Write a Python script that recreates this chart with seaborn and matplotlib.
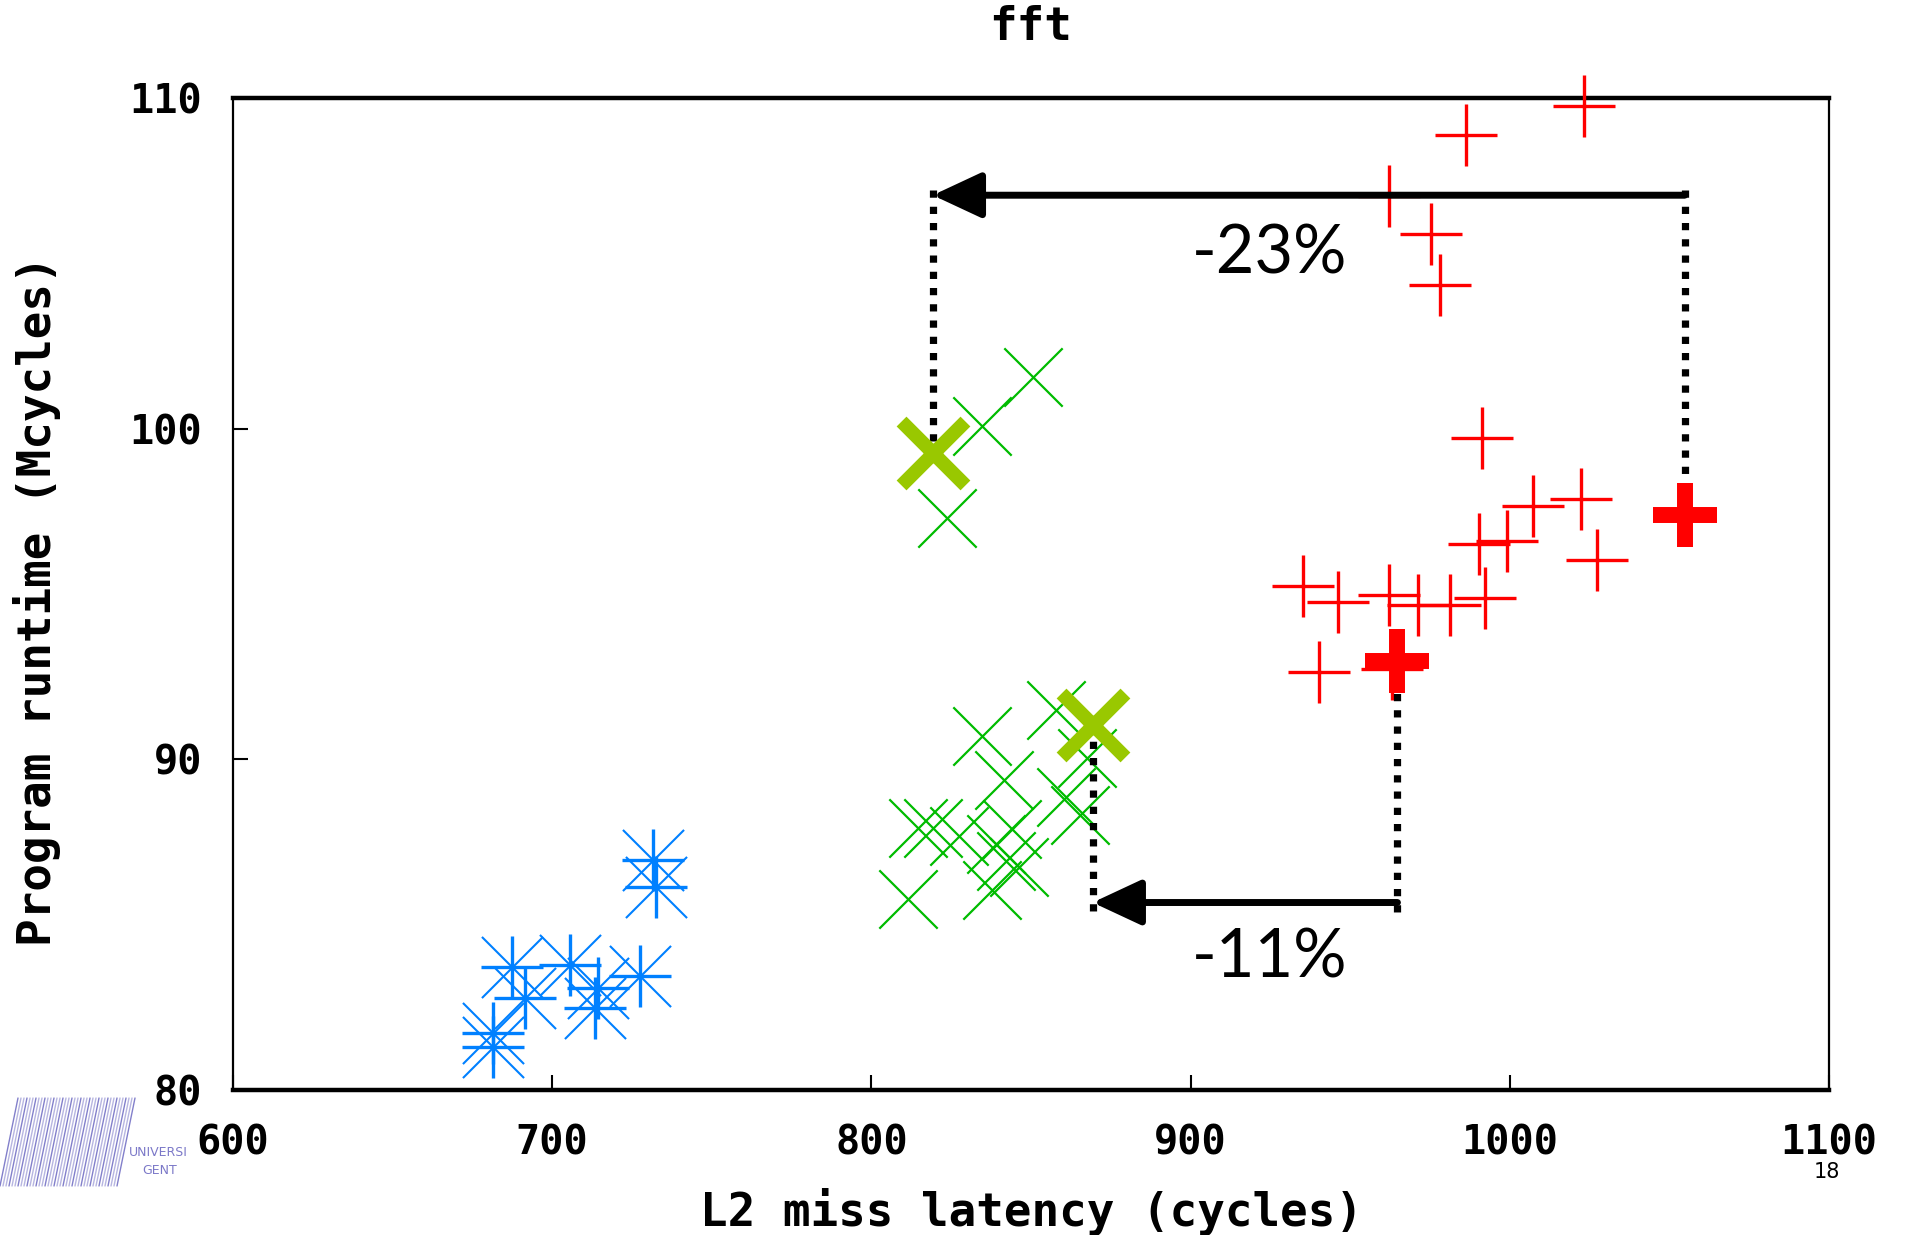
import matplotlib
matplotlib.use("Agg")
import matplotlib.pyplot as plt
import seaborn as sns
import pandas as pd
from matplotlib.lines import Line2D
from matplotlib.patches import FancyArrowPatch

# ---------------- data ----------------
blue_x = [731.5, 732.5, 687.3, 705.6, 691.5, 727.5, 714.4, 713.4, 681.4, 681.4]
blue_y = [86.95, 86.15, 83.73, 83.78, 82.78, 83.46, 83.08, 82.49, 81.72, 81.31]

green_x = [834.7, 850.7, 823.8, 834.7, 841.5, 857.7, 867.6, 861.0, 865.5,
           814.5, 819.4, 827.5, 843.9, 839.0, 842.2, 837.7, 811.6, 846.2]
green_y = [100.09, 101.55, 97.29, 90.71, 89.37, 91.48, 90.04, 88.86, 88.32,
           87.91, 87.91, 87.69, 87.90, 87.44, 86.92, 86.05, 85.78, 86.74]

red_x = [1023.2, 986.3, 962.2, 975.3, 978.1, 991.3, 1007.3, 1022.3, 1027.2, 999.0,
         990.3, 935.1, 946.1, 962.2, 971.2, 981.3, 992.2, 940.2, 963.1]
red_y = [109.76, 108.89, 107.05, 105.89, 104.35, 99.71, 97.67, 97.88, 96.04, 96.61,
         96.51, 95.25, 94.77, 94.98, 94.68, 94.68, 94.87, 92.65, 92.73]

green_hl_x = [819.2, 869.3]
green_hl_y = [99.27, 91.05]
red_hl_x = [1054.8, 964.8]
red_hl_y = [97.38, 92.98]

arrow_y = [107.06, 85.67]
arrow_labels = ["-23%", "-11%"]
label_x = [924.7, 924.7]
label_y = [105.28, 83.99]

x_ticks = [600, 700, 800, 900, 1000, 1100]
y_ticks = [80, 90, 100, 110]
title = "fft"
x_label = "L2 miss latency (cycles)"
y_label = "Program runtime (Mcycles)"

# ---------------- style ----------------
sns.set_theme(style="white")
plt.rcParams['font.family'] = ['DejaVu Sans Mono', 'DejaVu Sans']

W, H = 1914, 1235
fig = plt.figure(figsize=(W / 100, H / 100), dpi=100)
L, R, T, B = 233, 1829, 98, 1090
ax = fig.add_axes([L / W, 1 - B / H, (R - L) / W, (B - T) / H])

RED = "#ff0000"
GREEN = "#00bb00"
LIME = "#99c800"
BLUE = "#0080ff"

blue_df = pd.DataFrame({"x": blue_x, "y": blue_y})
green_df = pd.DataFrame({"x": green_x, "y": green_y})
red_df = pd.DataFrame({"x": red_x, "y": red_y})

# blue asterisks (plus + cross)
sns.scatterplot(data=blue_df, x="x", y="y", marker="+", s=44**2, linewidth=2.4,
                color=BLUE, ax=ax, zorder=3, clip_on=False)
sns.scatterplot(data=blue_df, x="x", y="y", marker="x", s=44**2, linewidth=1.5,
                color=BLUE, ax=ax, zorder=3, clip_on=False)
# green crosses
sns.scatterplot(data=green_df, x="x", y="y", marker="x", s=42**2, linewidth=1.6,
                color=GREEN, ax=ax, zorder=3, clip_on=False)
# red pluses
sns.scatterplot(data=red_df, x="x", y="y", marker="+", s=44.5**2, linewidth=2.4,
                color=RED, ax=ax, zorder=3, clip_on=False)

# highlighted points
sns.scatterplot(x=green_hl_x, y=green_hl_y, marker="x", s=46**2, linewidth=10,
                color=LIME, ax=ax, zorder=5, clip_on=False)
sns.scatterplot(x=red_hl_x, y=red_hl_y, marker="+", s=46**2, linewidth=11.5,
                color=RED, ax=ax, zorder=5, clip_on=False)

# dotted guides + arrows
dot_style = dict(color="black", lw=5.2, linestyle=(0, (1, 1.25)),
                 dash_capstyle="butt", zorder=4)
ext = 0.4
ax.plot([green_hl_x[0], green_hl_x[0]], [arrow_y[0] + 0.15, green_hl_y[0]], **dot_style)
ax.plot([red_hl_x[0], red_hl_x[0]], [arrow_y[0] + 0.15, red_hl_y[0]], **dot_style)
ax.plot([green_hl_x[1], green_hl_x[1]], [green_hl_y[1], arrow_y[1] - ext], **dot_style)
ax.plot([red_hl_x[1], red_hl_x[1]], [red_hl_y[1], arrow_y[1] - ext], **dot_style)

for i in range(2):
    arr = FancyArrowPatch((red_hl_x[i], arrow_y[i]), (green_hl_x[i], arrow_y[i]),
                          arrowstyle="-|>,head_length=30,head_width=14",
                          mutation_scale=1, lw=5, color="black",
                          shrinkA=0, shrinkB=0, zorder=6)
    ax.add_patch(arr)
    ax.text(label_x[i], label_y[i], arrow_labels[i], family=["Lato", "DejaVu Sans"],
            fontsize=48, ha="center", va="center", color="black", zorder=7)

# axes
ax.set_xlim(x_ticks[0], x_ticks[-1])
ax.set_ylim(y_ticks[0], y_ticks[-1])
ax.set_xticks(x_ticks)
ax.set_yticks(y_ticks)
ax.set_xticklabels([str(v) for v in x_ticks])
ax.set_yticklabels([str(v) for v in y_ticks])
ax.tick_params(axis="both", direction="in", length=11, width=1.5, color="black",
               labelsize=29, labelcolor="black", bottom=True, left=True,
               top=False, right=False)
ax.tick_params(axis="x", pad=24)
ax.tick_params(axis="y", pad=22)
for lab in ax.get_xticklabels() + ax.get_yticklabels():
    lab.set_fontweight("bold")

for side, lw in (("top", 3.2), ("bottom", 3.2), ("left", 1.6), ("right", 1.6)):
    ax.spines[side].set_visible(True)
    ax.spines[side].set_color("black")
    ax.spines[side].set_linewidth(lw)

ax.set_xlabel(x_label, fontsize=33, fontweight="bold", color="black")
ax.set_ylabel(y_label, fontsize=33, fontweight="bold", color="black")
ax.xaxis.set_label_coords(0.5, (B - 1212) / (B - T))
ax.xaxis.label.set_verticalalignment("center")
ax.yaxis.set_label_coords((37 - L) / (R - L), 0.493)
ax.yaxis.label.set_verticalalignment("center")
fig.text((L + R) / 2 / W, 1 - 28 / H, title, fontsize=33, fontweight="bold",
         color="black", ha="center", va="center")

# slide decorations: university logo and page number
logo_col = "#7b78c8"
for k in range(40):
    x0 = k * 3.0
    fig.add_artist(Line2D([x0 / W, (x0 + 18) / W],
                          [1 - 1186 / H, 1 - 1098 / H],
                          color=logo_col, lw=1.0, alpha=0.55 + 0.4 * ((k % 3) == 0)))
fig.text(158 / W, 1 - 1152 / H, "UNIVERSI", fontsize=9, color=logo_col,
         family=["DejaVu Sans"], ha="center", va="center")
fig.text(160 / W, 1 - 1170 / H, "GENT", fontsize=9, color=logo_col,
         family=["DejaVu Sans"], ha="center", va="center")
fig.text(1827 / W, 1 - 1172 / H, "18", fontsize=15, color="black",
         family=["DejaVu Sans"], ha="center", va="center")

fig.savefig("out.png", dpi=100)
